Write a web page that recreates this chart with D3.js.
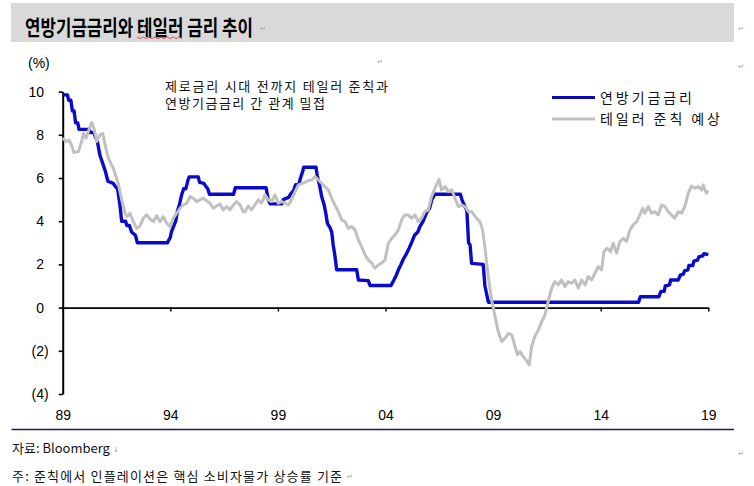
<!DOCTYPE html>
<html>
<head>
<meta charset="utf-8">
<script src="https://cdn.jsdelivr.net/npm/d3@7"></script>
<style>
  html, body { margin: 0; padding: 0; background: #fff; }
  svg { display: block; }
</style>
</head>
<body>
<svg id="chart" width="754" height="486"></svg>
<script>
// ---- Data (decimal year, % value) ----
const fedYears = [1989.0,1989.22,1989.28,1989.38,1989.45,1989.53,1989.6,1989.7,1989.76,1990.22,1990.3,1990.45,1990.52,1990.6,1990.73,1990.85,1990.97,1991.1,1991.35,1991.45,1991.55,1991.66,1991.74,1991.92,1991.98,1992.1,1992.2,1992.38,1992.47,1993.86,1994.0,1994.05,1994.15,1994.25,1994.34,1994.42,1994.52,1994.62,1994.72,1994.82,1994.88,1995.3,1995.36,1995.56,1995.66,1995.74,1995.82,1996.94,1997.02,1998.45,1998.55,1998.64,1999.18,1999.25,1999.5,1999.58,1999.72,1999.82,1999.98,2000.05,2000.15,2000.2,2000.77,2000.83,2000.95,2001.03,2001.15,2001.22,2001.3,2001.42,2001.5,2001.57,2001.65,2001.73,2002.66,2002.74,2003.2,2003.28,2004.25,2004.35,2004.5,2004.6,2004.7,2004.83,2004.95,2005.1,2005.25,2005.35,2005.5,2005.6,2005.75,2005.91,2006.05,2006.15,2006.3,2007.48,2007.55,2007.7,2007.78,2007.86,2007.93,2008.0,2008.54,2008.62,2008.78,2015.76,2015.84,2016.7,2016.8,2016.95,2017.0,2017.2,2017.25,2017.6,2017.7,2017.84,2017.9,2018.05,2018.1,2018.28,2018.33,2018.5,2018.56,2018.75,2018.8,2019.0];
const fedValues = [9.85,9.85,9.6,9.6,9.1,9.1,8.55,8.55,8.25,8.25,8.1,8.1,7.9,7.75,7.05,6.7,6.35,5.85,5.75,5.6,5.5,4.75,4.0,4.0,3.8,3.8,3.5,3.35,3.0,3.0,3.25,3.5,3.75,4.0,4.5,4.75,5.2,5.5,5.5,5.9,6.05,6.05,5.8,5.75,5.6,5.5,5.25,5.25,5.55,5.55,5.0,4.8,4.8,5.0,5.1,5.25,5.4,5.68,5.75,6.0,6.3,6.5,6.5,6.1,5.6,5.15,4.75,4.4,3.9,3.7,3.5,2.9,2.4,1.75,1.75,1.28,1.25,1.02,1.02,1.2,1.5,1.75,1.95,2.25,2.45,2.75,3.1,3.35,3.5,3.75,4.0,4.4,4.6,5.0,5.25,5.25,5.0,4.65,4.5,3.0,2.9,2.05,2.0,1.0,0.25,0.25,0.5,0.5,0.75,0.75,1.0,1.05,1.28,1.28,1.5,1.55,1.7,1.75,1.95,1.95,2.15,2.2,2.35,2.4,2.5,2.45];

const taylorYears = [1989.0,1989.18,1989.3,1989.42,1989.52,1989.73,1989.88,1989.96,1990.08,1990.19,1990.35,1990.47,1990.58,1990.73,1990.86,1990.97,1991.12,1991.35,1991.58,1991.74,1991.9,1992.0,1992.13,1992.28,1992.44,1992.59,1992.75,1992.9,1993.06,1993.21,1993.37,1993.52,1993.67,1993.83,1993.99,1994.14,1994.3,1994.45,1994.6,1994.76,1994.92,1995.07,1995.23,1995.38,1995.53,1995.69,1995.85,1996.0,1996.16,1996.31,1996.46,1996.62,1996.77,1996.93,1997.08,1997.24,1997.39,1997.47,1997.62,1997.78,1997.93,1998.09,1998.24,1998.4,1998.55,1998.71,1998.86,1999.02,1999.18,1999.33,1999.49,1999.64,1999.8,1999.95,2000.18,2000.41,2000.57,2000.72,2000.88,2001.03,2001.19,2001.34,2001.5,2001.65,2001.81,2001.96,2002.12,2002.27,2002.43,2002.58,2002.74,2002.89,2003.05,2003.2,2003.36,2003.51,2003.67,2003.82,2003.98,2004.13,2004.29,2004.44,2004.6,2004.75,2004.9,2005.06,2005.21,2005.37,2005.52,2005.68,2005.83,2005.99,2006.14,2006.3,2006.49,2006.6,2006.77,2006.92,2007.08,2007.23,2007.38,2007.54,2007.69,2007.85,2008.0,2008.23,2008.39,2008.51,2008.62,2008.7,2008.82,2008.93,2009.09,2009.24,2009.4,2009.55,2009.71,2009.87,2010.02,2010.13,2010.25,2010.4,2010.53,2010.68,2010.79,2010.94,2011.1,2011.26,2011.41,2011.56,2011.72,2011.87,2012.03,2012.18,2012.34,2012.49,2012.65,2012.8,2012.96,2013.11,2013.27,2013.42,2013.58,2013.73,2013.89,2014.04,2014.15,2014.3,2014.46,2014.58,2014.74,2014.89,2015.05,2015.2,2015.36,2015.51,2015.67,2015.82,2015.95,2016.05,2016.21,2016.36,2016.51,2016.67,2016.83,2016.98,2017.14,2017.29,2017.44,2017.6,2017.76,2017.91,2018.07,2018.22,2018.38,2018.53,2018.69,2018.76,2018.91,2019.0];
const taylorValues = [7.84,7.69,7.76,7.49,7.18,7.22,7.69,8.07,7.84,8.15,8.57,8.23,7.69,8.0,8.07,7.53,6.92,6.45,5.76,4.99,4.37,4.21,4.37,3.98,3.67,3.78,4.14,4.29,4.09,3.98,4.25,3.98,4.21,3.91,3.75,4.14,4.37,4.6,4.75,4.83,5.14,5.06,4.91,4.99,5.06,4.95,4.83,4.6,4.71,4.8,4.52,4.68,4.52,4.75,4.91,4.75,4.44,4.44,4.71,4.52,4.75,4.99,4.83,5.22,4.99,4.91,5.22,4.83,4.91,4.83,4.75,4.99,5.37,5.68,5.76,5.88,5.91,6.06,5.91,5.76,5.6,5.45,5.06,4.75,4.44,4.06,3.98,3.67,3.75,3.6,3.13,2.82,2.44,2.21,2.06,1.82,1.98,2.06,2.21,2.98,3.21,3.37,3.6,4.06,4.29,4.29,4.14,4.29,3.98,4.14,4.44,4.52,5.14,5.53,5.94,5.45,5.6,5.37,5.45,5.06,4.68,4.75,4.68,4.44,4.44,4.14,3.98,3.6,2.82,2.06,1.13,0.36,-0.42,-1.11,-1.57,-1.42,-1.19,-1.26,-1.8,-2.19,-2.04,-2.27,-2.42,-2.65,-1.8,-1.34,-1.03,-0.65,-0.34,0.28,0.9,1.2,1.05,1.28,0.97,1.2,1.13,1.28,0.9,1.28,1.05,1.44,1.28,1.59,1.9,1.74,2.59,2.75,2.59,2.98,2.52,3.06,3.21,3.06,3.6,3.83,3.98,4.29,4.6,4.37,4.68,4.37,4.44,4.29,4.75,4.68,4.44,4.29,4.14,4.44,4.37,4.68,5.3,5.63,5.53,5.6,5.45,5.68,5.3,5.42];

const yTicks = [-4, -2, 0, 2, 4, 6, 8, 10];
const xTicks = [1989, 1994, 1999, 2004, 2009, 2014, 2019];
const xTickLabels = ["89", "94", "99", "04", "09", "14", "19"];
const seriesNames = ["연방기금금리", "테일러 준칙 예상"];
const seriesColors = ["#0a0acc", "#c0c0c0"];
const titleText = "연방기금금리와 테일러 금리 추이";
const unitText = "(%)";
const noteLines = ["제로금리 시대 전까지 테일러 준칙과", "연방기금금리 간 관계 밀접"];
const footerLines = ["자료: Bloomberg", "주: 준칙에서 인플레이션은 핵심 소비자물가 상승률 기준"];

// ---- Drawing ----
const svg = d3.select("#chart");
const KR = "'Noto Sans CJK KR', 'Noto Sans', sans-serif";
const LAT = "'Liberation Sans', Arial, sans-serif";

const x = d3.scaleLinear().domain([1989, 2019]).range([62.7, 708.3]);
const y = d3.scaleLinear().domain([-4, 10]).range([394, 91.6]);

// title bar
svg.append("rect").attr("x", 11).attr("y", 3).attr("width", 723).attr("height", 39).attr("fill", "#d9d9d9");
const title = svg.append("text").attr("x", 0).attr("y", 0).attr("dy", "0.35em")
  .attr("font-family", KR).attr("font-weight", 700).attr("font-size", 21)
  .attr("fill", "#000").text(titleText);
{
  const w = title.node().getComputedTextLength() || 300;
  title.attr("transform", `translate(25,28) scale(${228 / w},1)`);
}
// spell-check squiggle under 테일러
(function(){
  const pts = [];
  for (let i = 0; i <= 15; i++) pts.push([137 + i * 3, 37.5 + (i % 2 ? 1.2 : -0.6)]);
  svg.append("path").attr("d", d3.line()(pts)).attr("fill", "none").attr("stroke", "#d03030").attr("stroke-width", 0.8);
})();

// unit
svg.append("text").attr("x", 28).attr("y", 63).attr("dy", "0.35em")
  .attr("font-family", LAT).attr("font-size", 14).attr("fill", "#000").text(unitText);

// y axis
const yAxis = d3.axisLeft(y).tickValues(yTicks).tickSize(4).tickSizeOuter(0).tickPadding(14.7)
  .tickFormat(d => d < 0 ? "(" + Math.abs(d) + ")" : String(d));
const gy = svg.append("g").attr("transform", "translate(62.7,0)").call(yAxis);
gy.select(".domain").attr("stroke", "#000").attr("stroke-width", 2);
gy.selectAll(".tick line").attr("stroke", "#000").attr("stroke-width", 1.6);
gy.selectAll(".tick text").attr("font-family", LAT).attr("font-size", 14).attr("fill", "#000")
  .attr("x", d => d < 0 ? -14 : -18.7);

// x axis at zero
const xAxis = d3.axisBottom(x).tickValues(xTicks).tickSize(4).tickSizeOuter(0).tickFormat("");
const gx = svg.append("g").attr("transform", `translate(0,${y(0)})`).call(xAxis);
gx.select(".domain").attr("stroke", "#000").attr("stroke-width", 1.8);
gx.selectAll(".tick line").attr("stroke", "#000").attr("stroke-width", 1.4);

// x labels at bottom
const xLab = d3.axisBottom(x).tickValues(xTicks).tickSize(0).tickFormat((d, i) => xTickLabels[i]);
const gxl = svg.append("g").attr("transform", `translate(0,${y(-4)})`).call(xLab);
gxl.select(".domain").remove();
gxl.selectAll(".tick text").attr("font-family", LAT).attr("font-size", 14).attr("fill", "#000")
  .attr("y", 21).attr("dy", "0.35em");

// lines
const fedData = fedYears.map((t, i) => [t, fedValues[i]]);
const taylorData = taylorYears.map((t, i) => [t, taylorValues[i]]);
const line = d3.line().x(d => x(d[0])).y(d => y(d[1]));
svg.append("path").datum(fedData).attr("d", line).attr("fill", "none")
  .attr("stroke", seriesColors[0]).attr("stroke-width", 3.4).attr("stroke-linejoin", "round");
svg.append("path").datum(taylorData).attr("d", line).attr("fill", "none")
  .attr("stroke", seriesColors[1]).attr("stroke-width", 3).attr("stroke-linejoin", "round");

// annotation
noteLines.forEach((t, i) => {
  svg.append("text").attr("x", 165).attr("y", 86 + i * 17.5).attr("dy", "0.35em")
    .attr("font-family", KR).attr("font-size", 13).attr("fill", "#111")
    .attr("textLength", i === 0 ? 223 : 160).attr("lengthAdjust", "spacing").text(t);
});

// legend
const legY = [97.5, 119];
const legW = [92, 120];
seriesNames.forEach((name, i) => {
  svg.append("line").attr("x1", 552).attr("x2", 595).attr("y1", legY[i]).attr("y2", legY[i])
    .attr("stroke", i === 0 ? "#0a0ab0" : seriesColors[1]).attr("stroke-width", 3.2);
  svg.append("text").attr("x", 600).attr("y", legY[i] + 0.5).attr("dy", "0.35em")
    .attr("font-family", KR).attr("font-size", 14).attr("fill", "#111")
    .attr("textLength", legW[i]).attr("lengthAdjust", "spacing").text(name);
});

// separator
svg.append("line").attr("x1", 11.5).attr("x2", 734).attr("y1", 429.5).attr("y2", 429.5)
  .attr("stroke", "#1b1b5e").attr("stroke-width", 1.3);

// footer
svg.append("text").attr("x", 12).attr("y", 448).attr("dy", "0.35em")
  .attr("font-family", KR).attr("font-size", 13).attr("fill", "#111").text(footerLines[0]);
svg.append("text").attr("x", 12).attr("y", 476.5).attr("dy", "0.35em")
  .attr("font-family", KR).attr("font-size", 13).attr("fill", "#111")
  .attr("textLength", 330).attr("lengthAdjust", "spacing").text(footerLines[1]);

// paragraph marks
const marks = [[260, 29, "↵"], [377, 62, "↵"], [738, 29, "↵"], [738, 67, "↵"], [738, 454, "↵"], [347, 477, "↵"], [113, 450, "↓"]];
marks.forEach(m => {
  svg.append("text").attr("x", m[0]).attr("y", m[1]).attr("dy", "0.35em").attr("text-anchor", "start")
    .attr("font-family", "'DejaVu Sans', sans-serif").attr("font-size", 7).attr("fill", "#9a9a9a").text(m[2]);
});
</script>
</body>
</html>
